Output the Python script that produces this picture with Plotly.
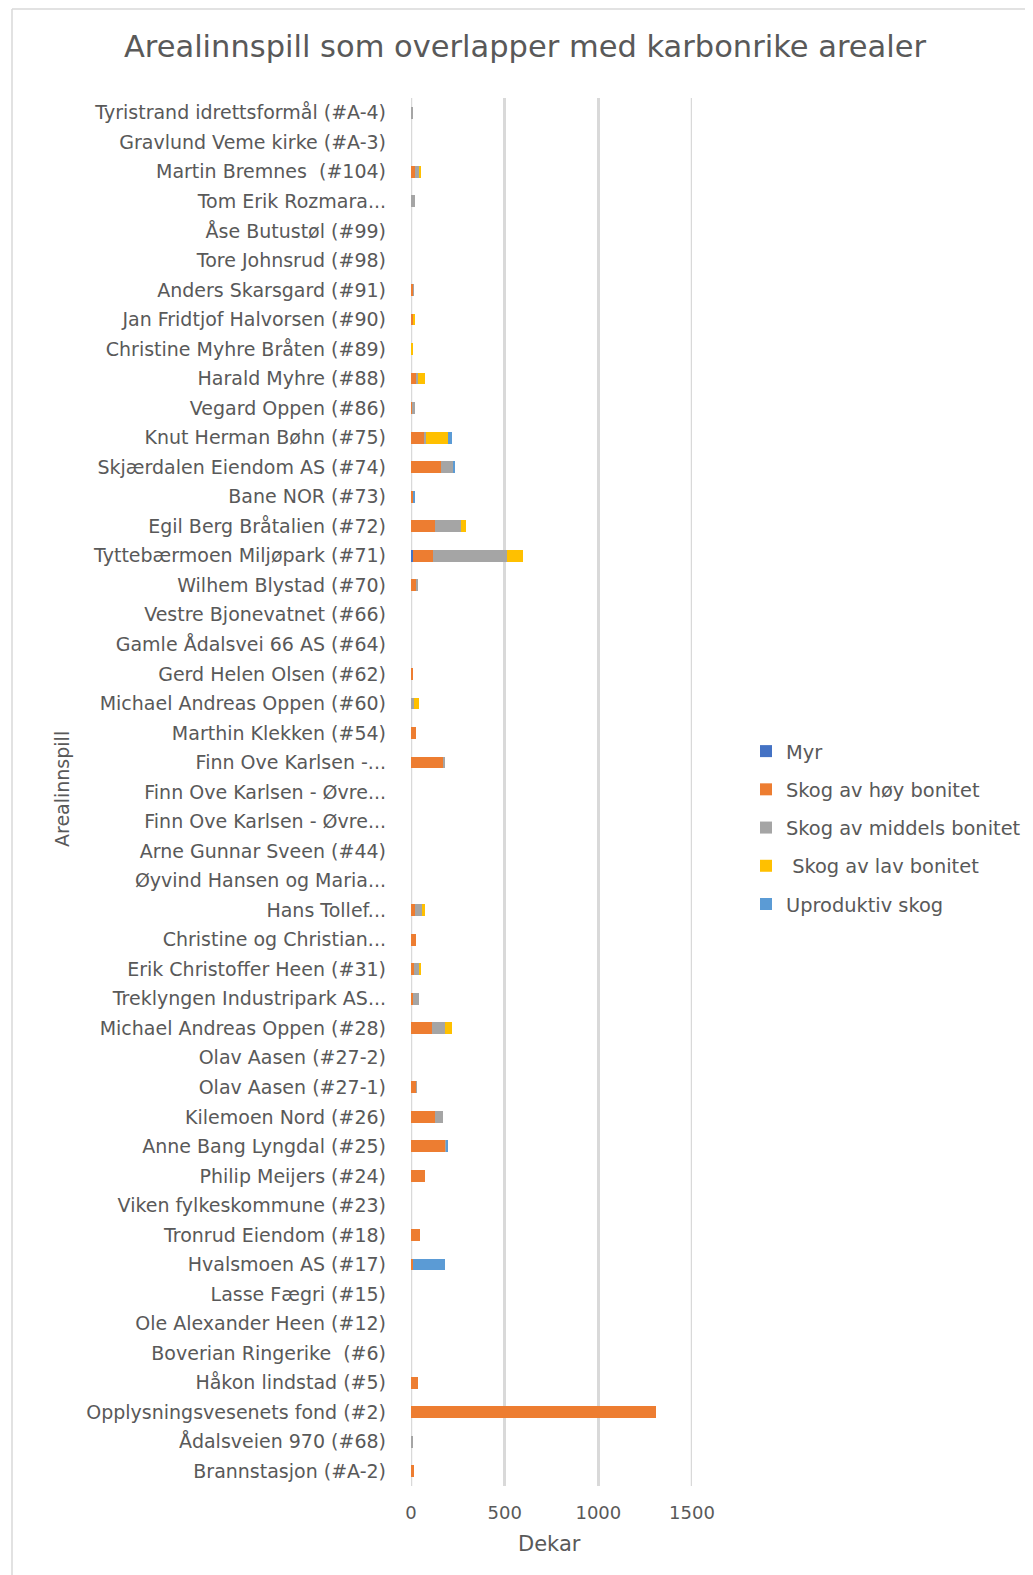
import plotly.graph_objects as go

categories = [
    "Tyristrand idrettsformål (#A-4)",
    "Gravlund Veme kirke (#A-3)",
    "Martin Bremnes  (#104)",
    "Tom Erik Rozmara...",
    "Åse Butustøl (#99)",
    "Tore Johnsrud (#98)",
    "Anders Skarsgard (#91)",
    "Jan Fridtjof Halvorsen (#90)",
    "Christine Myhre Bråten (#89)",
    "Harald Myhre (#88)",
    "Vegard Oppen (#86)",
    "Knut Herman Bøhn (#75)",
    "Skjærdalen Eiendom AS (#74)",
    "Bane NOR (#73)",
    "Egil Berg Bråtalien (#72)",
    "Tyttebærmoen Miljøpark (#71)",
    "Wilhem Blystad (#70)",
    "Vestre Bjonevatnet (#66)",
    "Gamle Ådalsvei 66 AS (#64)",
    "Gerd Helen Olsen (#62)",
    "Michael Andreas Oppen (#60)",
    "Marthin Klekken (#54)",
    "Finn Ove Karlsen -...",
    "Finn Ove Karlsen - Øvre...",
    "Finn Ove Karlsen - Øvre...",
    "Arne Gunnar Sveen (#44)",
    "Øyvind Hansen og Maria...",
    "Hans Tollef...",
    "Christine og Christian...",
    "Erik Christoffer Heen (#31)",
    "Treklyngen Industripark AS...",
    "Michael Andreas Oppen (#28)",
    "Olav Aasen (#27-2)",
    "Olav Aasen (#27-1)",
    "Kilemoen Nord (#26)",
    "Anne Bang Lyngdal (#25)",
    "Philip Meijers (#24)",
    "Viken fylkeskommune (#23)",
    "Tronrud Eiendom (#18)",
    "Hvalsmoen AS (#17)",
    "Lasse Fægri (#15)",
    "Ole Alexander Heen (#12)",
    "Boverian Ringerike  (#6)",
    "Håkon lindstad (#5)",
    "Opplysningsvesenets fond (#2)",
    "Ådalsveien 970 (#68)",
    "Brannstasjon (#A-2)",
]

myr = [0, 0, 0, 0, 0, 0, 0, 0, 0, 0,
       0, 0, 0, 0, 0, 9, 0, 0, 0, 0,
       0, 0, 0, 0, 0, 0, 0, 0, 0, 0,
       0, 0, 0, 0, 0, 0, 0, 0, 0, 0,
       0, 0, 0, 0, 0, 0, 0]
hoy = [0, 0, 21, 0, 0, 0, 12, 12, 0, 32,
       10, 69, 158, 14, 126, 110, 32, 0, 0, 7,
       0, 28, 175, 0, 0, 0, 0, 23, 28, 14,
       9, 110, 0, 28, 126, 186, 76, 0, 48, 9,
       0, 0, 0, 37, 1310, 0, 17]
middels = [8, 0, 23, 23, 0, 0, 3, 0, 0, 3,
           10, 12, 71, 0, 143, 391, 2, 0, 0, 0,
           14, 0, 5, 0, 0, 0, 0, 34, 0, 30,
           34, 74, 0, 3, 46, 2, 0, 0, 0, 0,
           0, 0, 0, 0, 0, 8, 0]
lav = [0, 0, 5, 0, 0, 0, 0, 5, 9, 40,
       0, 119, 0, 0, 27, 88, 0, 0, 0, 0,
       28, 0, 0, 0, 0, 0, 0, 19, 0, 5,
       0, 35, 0, 0, 0, 0, 0, 0, 0, 0,
       0, 0, 0, 0, 0, 0, 0]
uprod = [0, 0, 0, 0, 0, 0, 0, 0, 0, 0,
         0, 19, 5, 7, 0, 0, 0, 0, 0, 0,
         0, 0, 0, 0, 0, 0, 0, 0, 0, 0,
         0, 0, 0, 0, 0, 5, 0, 0, 0, 170,
         0, 0, 0, 0, 0, 0, 0]

series_names = ["Myr", "Skog av høy bonitet", "Skog av middels bonitet",
                " Skog av lav bonitet", "Uproduktiv skog"]
series_values = [myr, hoy, middels, lav, uprod]
colors = ["#4472C4", "#ED7D31", "#A5A5A5", "#FFC000", "#5B9BD5"]

xticks = [0, 500, 1000, 1500]

FONT = "DejaVu Sans"
TXT = "#595959"
GRID = "#D9D9D9"

OFF = 8  # page body margin
W, H = 1033, 1575
# plot area in reference screenshot pixels
PL, PR, PT, PB = 411, 692, 98, 1486
ML, MT = PL - OFF, PT - OFF
MR = W - (PR - OFF)
MB = H - (PB - OFF)
PW, PH = PR - PL, PB - PT


def px(x):
    return (x - PL) / PW


def py(y):
    return 1 - (y - PT) / PH


ypos = list(range(len(categories)))

fig = go.Figure()
for name, vals, col in zip(series_names, series_values, colors):
    fig.add_trace(go.Bar(
        y=ypos, x=vals, name=name, orientation="h",
        marker=dict(color=col, line=dict(width=0)),
        legendgroup=name,
    ))

shapes = [
    dict(type="line", xref="paper", yref="paper", x0=px(12), x1=px(12),
         y0=py(9), y1=py(1600), line=dict(color=GRID, width=1.5)),
    dict(type="line", xref="paper", yref="paper", x0=px(12), x1=px(1045),
         y0=py(9), y1=py(9), line=dict(color=GRID, width=1.5)),
]
for v in (xticks[0], xticks[-1]):
    shapes.append(dict(type="line", xref="x", yref="paper", x0=v, x1=v,
                       y0=0, y1=1, layer="below",
                       line=dict(color=GRID, width=2.5)))

fig.update_layout(
    width=W, height=H,
    margin=dict(l=ML, r=MR, t=MT, b=MB),
    paper_bgcolor="white", plot_bgcolor="white",
    barmode="stack", bargap=0.6,
    font=dict(family=FONT, color=TXT, size=17),
    title=dict(text="Arealinnspill som overlapper med karbonrike arealer",
               x=px(525), xref="paper", xanchor="center",
               y=1 - (46 - OFF) / H, yref="container", yanchor="middle",
               font=dict(family=FONT, size=30.5, color=TXT)),
    showlegend=True,
    legend=dict(x=px(746), xref="paper", xanchor="left",
                y=py(732), yanchor="top",
                traceorder="grouped", tracegroupgap=10,
                font=dict(family=FONT, size=19.4, color=TXT),
                itemwidth=30, bgcolor="rgba(0,0,0,0)"),
    xaxis=dict(range=[0, 1500], tickvals=xticks, ticktext=[str(v) for v in xticks],
               showgrid=True, gridcolor=GRID, gridwidth=2.5,
               zeroline=False, showline=False, ticks="",
               ticklabelstandoff=14,
               tickfont=dict(family=FONT, size=18, color=TXT)),
    yaxis=dict(tickvals=ypos, ticktext=categories, autorange="reversed",
               showgrid=False, zeroline=False, showline=False,
               ticks="", ticklabelstandoff=24,
               tickfont=dict(family=FONT, size=19, color=TXT)),
    annotations=[
        dict(text="Dekar", x=px(549), y=py(1544), xref="paper", yref="paper",
             showarrow=False, xanchor="center", yanchor="middle",
             font=dict(family=FONT, size=21, color=TXT)),
        dict(text="Arealinnspill", x=px(62), y=py(789), xref="paper", yref="paper",
             showarrow=False, xanchor="center", yanchor="middle", textangle=-90,
             font=dict(family=FONT, size=19, color=TXT)),
    ],
    shapes=shapes,
)

fig.write_html("out.html")
